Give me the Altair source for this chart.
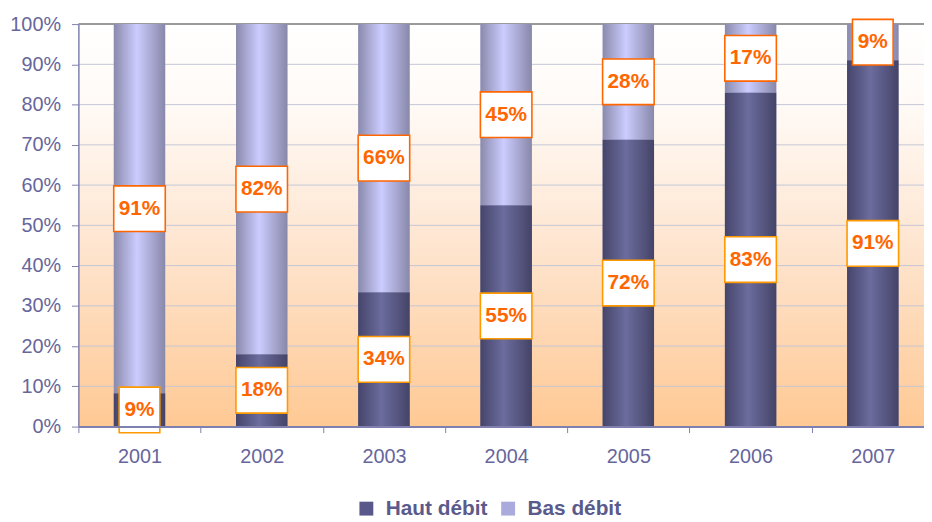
import altair as alt
import pandas as pd

years = ["2001", "2002", "2003", "2004", "2005", "2006", "2007"]
haut = [8.3, 18.0, 33.4, 55.0, 71.3, 83.0, 91.0]
bas = [91.7, 82.0, 66.6, 45.0, 28.7, 17.0, 9.0]
haut_labels = ["9%", "18%", "34%", "55%", "72%", "83%", "91%"]
bas_labels = ["91%", "82%", "66%", "45%", "28%", "17%", "9%"]
series_names = ["Haut débit", "Bas débit"]
y_ticks = [0, 10, 20, 30, 40, 50, 60, 70, 80, 90, 100]

rows = []
for i, yr in enumerate(years):
    rows.append(dict(year=yr, series=series_names[0], start=0.0, end=haut[i], label=haut_labels[i]))
    rows.append(dict(year=yr, series=series_names[1], start=haut[i], end=haut[i] + bas[i], label=bas_labels[i]))
df = pd.DataFrame(rows)
df["mid"] = (df["start"] + df["end"]) / 2
df["digits"] = df["label"].str.len().map(lambda n: "1" if n <= 2 else "2")

grid_df = pd.DataFrame({"v": y_ticks[1:]})
bg_df = pd.DataFrame({"lo": [0], "hi": [100]})

FONT = "Liberation Sans"
AXIS_TXT = "#66669c"
AXIS_LINE = "#8080b0"

y_scale = alt.Scale(domain=[0, 100], nice=False, zero=True)
y_axis = alt.Axis(values=y_ticks, labelExpr="datum.value + '%'", title=None, grid=False,
                  labelFont=FONT, labelFontSize=20, labelColor=AXIS_TXT, labelPadding=11,
                  tickSize=7, tickColor=AXIS_LINE, domainColor=AXIS_LINE, domainWidth=1.5,
                  zindex=1)
x_scale = alt.Scale(domain=years, paddingInner=0, paddingOuter=0, range=[0, 863])
x_axis = alt.Axis(title=None, labelAngle=0, tickBand="extent", grid=False,
                  labelFont=FONT, labelFontSize=20, labelColor=AXIS_TXT, labelPadding=14,
                  tickSize=6, tickColor=AXIS_LINE, domainColor=AXIS_LINE, domainWidth=2,
                  zindex=1)

bg_grad = {"gradient": "linear", "x1": 0, "x2": 0, "y1": 0, "y2": 1,
           "stops": [{"offset": 0, "color": "#ffffff"},
                     {"offset": 0.2, "color": "#fffaf6"},
                     {"offset": 0.55, "color": "#fee5d0"},
                     {"offset": 1, "color": "#ffc994"}]}
haut_grad = {"gradient": "linear", "x1": 0, "x2": 1, "y1": 0, "y2": 0,
             "stops": [{"offset": 0, "color": "#45456b"},
                       {"offset": 0.45, "color": "#6c6c9e"},
                       {"offset": 1, "color": "#444468"}]}
bas_grad = {"gradient": "linear", "x1": 0, "x2": 1, "y1": 0, "y2": 0,
            "stops": [{"offset": 0, "color": "#8a8aac"},
                      {"offset": 0.45, "color": "#ccccff"},
                      {"offset": 1, "color": "#8888aa"}]}

background = alt.Chart(bg_df).mark_rect(fill=bg_grad).encode(
    y=alt.Y("lo:Q", scale=y_scale, axis=y_axis),
    y2="hi:Q",
    x=alt.value(0),
    x2=alt.value("width"),
)

grid = alt.Chart(grid_df).mark_rule().encode(
    y=alt.Y("v:Q", scale=y_scale, axis=y_axis),
    x=alt.value(0),
    x2=alt.value("width"),
    color=alt.condition("datum.v == 100", alt.value("#9a9a9a"), alt.value("#c4c6d6")),
    strokeWidth=alt.condition("datum.v == 100", alt.value(2), alt.value(1)),
)

bar_w = {"band": 0.42}

base_bars = alt.Chart(df).mark_bar(width=bar_w).encode(
    x=alt.X("year:N", scale=x_scale, axis=x_axis),
    y=alt.Y("start:Q", scale=y_scale, axis=y_axis),
    y2="end:Q",
    color=alt.Color("series:N",
                    scale=alt.Scale(domain=series_names, range=["#58588a", "#aaaadd"]),
                    legend=alt.Legend(orient="none", legendX=280, legendY=478,
                                      direction="horizontal", title=None,
                                      symbolType="square", symbolSize=196,
                                      symbolStrokeWidth=0,
                                      labelFont=FONT, labelFontSize=21,
                                      labelFontWeight="bold", labelColor="#5a5a8c",
                                      columnPadding=10, labelOffset=9, padding=0)),
)

haut_bars = alt.Chart(df).transform_filter(
    alt.datum.series == series_names[0]
).mark_bar(width=bar_w, fill=haut_grad).encode(
    x=alt.X("year:N", scale=x_scale, axis=x_axis),
    y=alt.Y("start:Q", scale=y_scale, axis=y_axis),
    y2="end:Q",
)

bas_bars = alt.Chart(df).transform_filter(
    alt.datum.series == series_names[1]
).mark_bar(width=bar_w, fill=bas_grad).encode(
    x=alt.X("year:N", scale=x_scale, axis=x_axis),
    y=alt.Y("start:Q", scale=y_scale, axis=y_axis),
    y2="end:Q",
)

box1 = "M-0.891,-1H0.891V1H-0.891Z"
box2 = "M-1.13,-1H1.13V1H-1.13Z"

boxes = alt.Chart(df).mark_point(filled=True, fill="white", strokeWidth=1.6, opacity=1, size=2116).encode(
    x=alt.X("year:N", scale=x_scale, axis=x_axis),
    y=alt.Y("mid:Q", scale=y_scale, axis=y_axis),
    shape=alt.Shape("digits:N", scale=alt.Scale(domain=["1", "2"], range=[box1, box2]), legend=None),
    stroke=alt.Stroke("series:N", scale=alt.Scale(domain=series_names, range=["#ff9900", "#ff6600"]),
                      legend=None),
)

texts = alt.Chart(df).mark_text(font=FONT, fontSize=21, fontWeight="bold", color="#ff6600",
                                align="center", baseline="middle").encode(
    x=alt.X("year:N", scale=x_scale, axis=x_axis),
    y=alt.Y("mid:Q", scale=y_scale, axis=y_axis),
    text="label:N",
)

chart = alt.layer(background, grid, base_bars, haut_bars, bas_bars, boxes, texts).properties(
    width=853, height=406,
    autosize=alt.AutoSizeParams(type="none"),
    padding={"left": 71, "top": 14, "right": 0, "bottom": 94},
).configure_view(stroke="transparent").configure(background="white")

chart.save("out.html", embed_options={"renderer": "svg", "actions": False})
